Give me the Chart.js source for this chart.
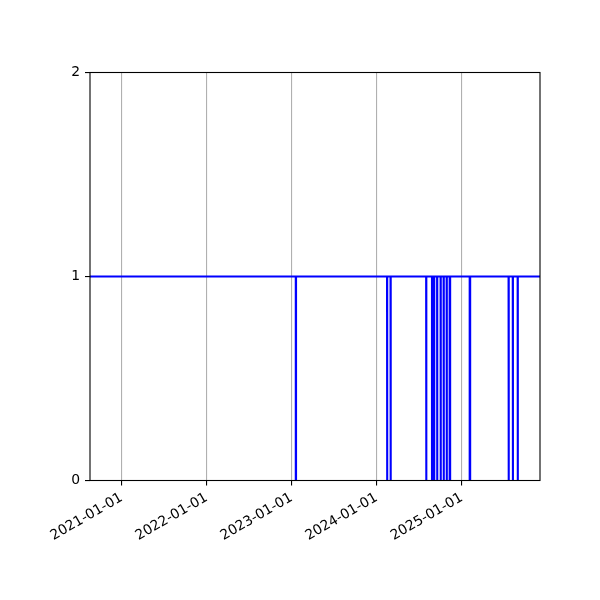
<!DOCTYPE html>
<html>
<head>
<meta charset="utf-8">
<script src="https://cdn.jsdelivr.net/npm/chart.js@4"></script>
<style>
  html, body { margin: 0; padding: 0; background: #fff; }
  #wrap { width: 600px; height: 600px; position: relative; }
</style>
</head>
<body>
<div id="wrap"><canvas id="c"></canvas></div>
<script>
// ---- data ----
const rangeStart = "2020-08-18";
const rangeEnd = "2025-12-03";
const baseValue = 1;
const dipValue = 0;
const dipStarts = ["2023-01-19", "2024-02-15", "2024-03-01", "2024-08-01", "2024-08-26",
                   "2024-09-04", "2024-09-17", "2024-10-02", "2024-10-15", "2024-10-28",
                   "2024-11-10", "2025-02-04", "2025-07-21", "2025-08-08", "2025-08-29"];
const dipDays = [1, 1, 1, 1, 1, 1, 1, 1, 1, 1, 2, 2, 1, 1, 1];
const xTickLabels = ["2021-01-01", "2022-01-01", "2023-01-01", "2024-01-01", "2025-01-01"];
const yTicks = [0, 1, 2];

const DAY = 86400000;
const toMs = s => Date.parse(s + "T00:00:00Z");
const fmt = ms => new Date(ms).toISOString().slice(0, 10);

const points = [{x: toMs(rangeStart), y: baseValue}];
dipStarts.forEach((s, i) => {
  const a = toMs(s), b = a + dipDays[i] * DAY;
  points.push({x: a, y: baseValue}, {x: a, y: dipValue}, {x: b, y: dipValue}, {x: b, y: baseValue});
});
points.push({x: toMs(rangeEnd), y: baseValue});

const frame = {
  id: 'frame',
  afterDatasetsDraw(chart) {
    const {ctx, chartArea: a} = chart;
    ctx.save();
    ctx.strokeStyle = '#000';
    ctx.lineWidth = 1.1;
    ctx.strokeRect(a.left, a.top, a.right - a.left, a.bottom - a.top);
    ctx.restore();
  }
};

const font = {family: "'DejaVu Sans', sans-serif", size: 13.9};

new Chart(document.getElementById('c'), {
  type: 'line',
  data: {
    datasets: [{
      data: points,
      borderColor: '#0000ff',
      borderWidth: 2.1,
      pointRadius: 0,
      tension: 0,
      fill: false
    }]
  },
  options: {
    responsive: true,
    maintainAspectRatio: false,
    animation: false,
    parsing: true,
    layout: {padding: {top: 72.5, right: 60, left: 0, bottom: 0}},
    plugins: {legend: {display: false}, tooltip: {enabled: false}},
    scales: {
      x: {
        type: 'linear',
        min: toMs(rangeStart),
        max: toMs(rangeEnd),
        afterBuildTicks(scale) {
          scale.ticks = xTickLabels.map(t => ({value: toMs(t)}));
        },
        afterFit(scale) { scale.height = 119.5; },
        border: {display: false},
        grid: {color: '#b0b0b0', lineWidth: 1.1, tickColor: '#000', tickLength: 5, drawOnChartArea: true},
        ticks: {
          autoSkip: false, minRotation: 30, maxRotation: 30, padding: 4,
          color: '#000', font: font,
          callback: v => fmt(v)
        }
      },
      y: {
        type: 'linear',
        min: 0, max: 2,
        afterBuildTicks(scale) {
          scale.ticks = yTicks.map(v => ({value: v}));
        },
        afterFit(scale) { scale.width = 90; },
        border: {display: false},
        grid: {drawOnChartArea: false, tickColor: '#000', tickLength: 5, lineWidth: 1.1},
        ticks: {padding: 5, color: '#000', font: font, callback: v => String(v)}
      }
    }
  },
  plugins: [frame]
});
</script>
</body>
</html>
